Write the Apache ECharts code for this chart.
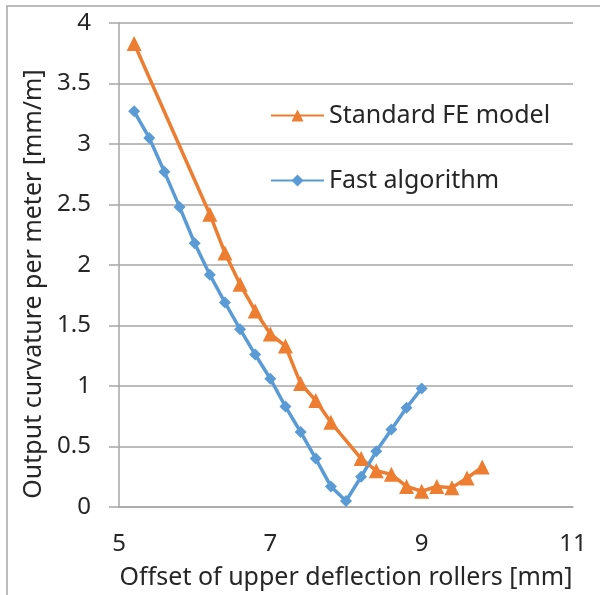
<!DOCTYPE html>
<html lang="en">
<head>
    <meta charset="UTF-8">
    <title>Output curvature vs offset</title>
    <script src="https://cdn.jsdelivr.net/npm/echarts/dist/echarts.min.js"></script>
    <style>
        html, body { margin: 0; padding: 0; background: #fff; }
        #chart { width: 600px; height: 595px; }
    </style>
</head>
<body>
<div id="chart"></div>
<script>
    // values
    var feOffset = [5.2, 6.2, 6.4, 6.6, 6.8, 7.0, 7.2, 7.4, 7.6, 7.8, 8.2, 8.4, 8.6, 8.8, 9.0, 9.2, 9.4, 9.6, 9.8];
    var feCurvature = [3.83, 2.42, 2.10, 1.84, 1.62, 1.43, 1.33, 1.02, 0.88, 0.70, 0.40, 0.30, 0.27, 0.17, 0.13, 0.17, 0.16, 0.24, 0.33];

    var fastOffset = [5.2, 5.4, 5.6, 5.8, 6.0, 6.2, 6.4, 6.6, 6.8, 7.0, 7.2, 7.4, 7.6, 7.8, 8.0, 8.2, 8.4, 8.6, 8.8, 9.0];
    var fastCurvature = [3.27, 3.05, 2.77, 2.48, 2.18, 1.92, 1.69, 1.47, 1.26, 1.06, 0.83, 0.62, 0.40, 0.17, 0.05, 0.25, 0.46, 0.64, 0.82, 0.98];

    var seriesNames = ['Standard FE model', 'Fast algorithm'];
    var xTitle = 'Offset of upper deflection rollers [mm]';
    var yTitle = 'Output curvature per meter [mm/m]';

    function pairs(xs, ys) {
        return xs.map(function (x, i) { return [x, ys[i]]; });
    }

    var font = 'Noto Sans';
    var chart = echarts.init(document.getElementById('chart'));

    chart.setOption({
        animation: false,
        textStyle: { fontFamily: font },
        grid: { left: 119, right: 27, top: 23, bottom: 87 },
        graphic: [{
            type: 'rect',
            shape: { x: 7, y: 6, width: 620, height: 620 },
            style: { fill: 'none', stroke: '#a6a6a6', lineWidth: 1.5 },
            silent: true
        }],
        legend: {
            orient: 'vertical',
            left: 265,
            top: 98,
            itemWidth: 53,
            itemHeight: 15,
            itemGap: 40,
            textStyle: { fontSize: 25, color: '#262626', fontFamily: font },
            data: seriesNames
        },
        xAxis: {
            type: 'value',
            min: 5,
            max: 11,
            interval: 2,
            name: xTitle,
            nameLocation: 'middle',
            nameGap: 58,
            nameTextStyle: { fontSize: 25, color: '#262626' },
            axisLine: { show: true, lineStyle: { color: '#a6a6a6', width: 1.5 } },
            axisTick: { show: false },
            splitLine: { show: false },
            axisLabel: { fontSize: 24, color: '#262626', margin: 25 }
        },
        yAxis: {
            type: 'value',
            min: 0,
            max: 4,
            interval: 0.5,
            name: yTitle,
            nameLocation: 'middle',
            nameGap: 54,
            nameTextStyle: { fontSize: 25, color: '#262626', padding: [0, 38, 0, 0] },
            axisLine: { show: true, lineStyle: { color: '#a6a6a6', width: 1.5 } },
            axisTick: { show: true, inside: false, length: 10, lineStyle: { color: '#a6a6a6', width: 1.5 } },
            splitLine: { show: true, lineStyle: { color: '#a6a6a6', width: 1.5 } },
            axisLabel: { fontSize: 24, color: '#262626', margin: 28 }
        },
        series: [
            {
                name: seriesNames[0],
                type: 'line',
                data: pairs(feOffset, feCurvature),
                symbol: 'triangle',
                symbolSize: 15,
                showAllSymbol: true,
                lineStyle: { color: '#ED7D31', width: 3.5 },
                itemStyle: { color: '#ED7D31' }
            },
            {
                name: seriesNames[1],
                type: 'line',
                data: pairs(fastOffset, fastCurvature),
                symbol: 'diamond',
                symbolSize: 12,
                showAllSymbol: true,
                lineStyle: { color: '#5B9BD5', width: 3.5 },
                itemStyle: { color: '#5B9BD5' }
            }
        ]
    });
</script>
</body>
</html>
